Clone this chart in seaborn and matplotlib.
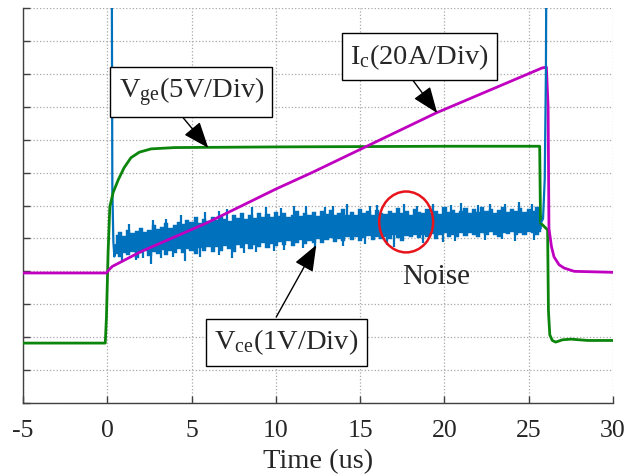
import numpy as np
import pandas as pd
import matplotlib
matplotlib.use("Agg")
import matplotlib.pyplot as plt
import seaborn as sns
from matplotlib.patches import Ellipse

# ---------------- data (y in divisions) ----------------
x_ticks = [-5, 0, 5, 10, 15, 20, 25, 30]
x_tick_labels = ["-5", "0", "5", "10", "15", "20", "25", "30"]

# Vge (green)
vge_t = [-5, -0.12, -0.05, 0.05, 0.15, 0.35, 0.65, 1.0, 1.4, 1.9, 2.6, 4.0, 10, 20,
         25.65, 25.7, 26.12, 26.17, 26.25, 26.4, 26.6, 27.0, 27.5, 28.5, 30]
vge_v = [1.82, 1.82, 2.6, 4.6, 5.96, 6.4, 6.78, 7.15, 7.45, 7.62, 7.72, 7.76, 7.78, 7.8,
         7.8, 5.47, 5.26, 2.8, 2.07, 1.9, 1.85, 1.92, 1.94, 1.9, 1.9]

# Ic (magenta)
ic_t = [-5, -0.05, 0.1, 0.3, 2.0, 5.9, 10, 12.1, 19.5, 25.8, 26.05, 26.15, 26.2,
        26.35, 26.5, 26.8, 27.1, 27.7, 30]
ic_v = [3.95, 3.95, 4.05, 4.15, 4.6, 5.47, 6.5, 6.99, 8.81, 10.18, 10.2, 9.0, 5.3,
        4.75, 4.44, 4.2, 4.1, 4.0, 3.97]

# Vce (blue): switching edges
vce_on_t = [0.27, 0.30, 0.36, 0.42, 0.5]
vce_on_v = [12.5, 6.5, 4.9, 4.45, 4.8]
vce_off_t = [25.75, 25.85, 25.95, 26.02, 26.04]
vce_off_v = [5.5, 5.6, 6.8, 10.0, 12.5]

# Vce noise band: upper / lower edges every 0.25 us from 0.5 to 25.75
band_t = [0.5 + 0.25 * i for i in range(102)]
band_hi = [5.10, 5.18, 5.08, 5.26, 5.15, 5.22, 5.32, 5.18,
           5.26, 5.40, 5.30, 5.35, 5.48, 5.33, 5.42, 5.50,
           5.44, 5.56, 5.50, 5.64, 5.46, 5.58, 5.53, 5.66,
           5.56, 5.68, 5.60, 5.54, 5.72, 5.63, 5.76, 5.58,
           5.70, 5.61, 5.78, 5.66, 5.74, 5.64, 5.81, 5.68,
           5.76, 5.66, 5.72, 5.84, 5.68, 5.78, 5.70, 5.80,
           5.68, 5.82, 5.74, 5.86, 5.71, 5.78, 5.90, 5.72,
           5.80, 5.72, 5.88, 5.76, 5.82, 5.70, 5.86, 5.78,
           5.74, 5.84, 5.78, 5.92, 5.76, 5.82, 5.72, 5.88,
           5.80, 5.76, 5.90, 5.78, 5.84, 5.74, 5.94, 5.80,
           5.86, 5.76, 5.82, 5.92, 5.78, 5.88, 5.80, 5.96,
           5.82, 5.90, 5.78, 5.86, 5.94, 5.80, 5.88, 5.84,
           5.92, 5.80, 5.90, 5.84, 5.96, 5.82]
band_lo = [4.52, 4.45, 4.57, 4.49, 4.59, 4.42, 4.55, 4.61,
           4.47, 4.59, 4.53, 4.65, 4.51, 4.63, 4.57, 4.67,
           4.55, 4.69, 4.61, 4.53, 4.71, 4.63, 4.75, 4.59,
           4.73, 4.63, 4.77, 4.67, 4.59, 4.79, 4.71, 4.83,
           4.69, 4.81, 4.75, 4.87, 4.71, 4.83, 4.77, 4.89,
           4.81, 4.91, 4.77, 4.87, 4.95, 4.83, 4.93, 4.85,
           4.97, 4.87, 4.95, 5.01, 4.89, 4.99, 4.93, 5.03,
           4.95, 5.03, 4.91, 5.01, 5.07, 4.95, 5.03, 4.97,
           5.05, 4.97, 5.09, 5.01, 4.93, 5.07, 5.03, 5.11,
           5.01, 5.09, 5.05, 5.13, 4.99, 5.09, 5.15, 5.05,
           5.11, 5.03, 5.15, 5.07, 5.17, 5.09, 5.03, 5.15,
           5.09, 5.19, 5.11, 5.05, 5.17, 5.13, 5.21, 5.09,
           5.17, 5.11, 5.21, 5.15, 5.09, 5.19]

# taller noise spikes above / below the band
spk_up_t = [1.3, 2.7, 3.5, 4.4, 5.8, 6.6, 7.1, 8.6, 9.4, 10.3, 11.1, 11.8, 12.9, 13.4,
            14.2, 15.6, 16.0, 17.6, 18.4, 19.3, 20.4, 21.0, 22.0, 22.7, 23.6, 24.4, 25.2]
spk_up_v = [5.45, 5.55, 5.6, 5.7, 5.8, 5.84, 5.88, 5.94, 5.96, 5.92, 5.98, 6.0, 5.96,
            6.0, 6.06, 5.98, 6.02, 6.06, 6.0, 6.04, 6.02, 6.08, 6.02, 6.06, 6.04, 6.1, 6.04]
spk_dn_t = [0.9, 1.7, 2.1, 2.6, 3.2, 3.9, 4.6, 5.5, 6.6, 7.4, 8.1, 8.8, 9.9, 10.5,
            11.6, 12.3, 14.0, 15.3, 16.6, 17.0, 18.7, 19.9, 20.6, 22.4, 23.4, 24.2, 25.3]
spk_dn_v = [4.3, 4.35, 4.4, 4.22, 4.4, 4.45, 4.32, 4.45, 4.5, 4.42, 4.55, 4.58, 4.62,
            4.66, 4.7, 4.72, 4.78, 4.82, 4.8, 4.75, 4.86, 4.9, 4.92, 4.94, 4.98, 4.92, 4.96]

# ---------------- style ----------------
sns.set_style("white")
plt.rcParams["font.family"] = ["Liberation Serif", "DejaVu Serif"]
plt.rcParams["mathtext.fontset"] = "custom"
plt.rcParams["mathtext.rm"] = "Liberation Serif"
plt.rcParams["mathtext.it"] = "Liberation Serif:italic"
plt.rcParams["axes.unicode_minus"] = False

BLUE = "#0072bd"
GREEN = "#0b850b"
MAGENTA = "#c000c0"

fig = plt.figure(figsize=(6.27, 4.75), dpi=100)
ax = fig.add_axes([23 / 627, 1 - 403 / 475, 590 / 627, 395 / 475])

# blue noise band
core_lo = np.array(band_lo) + 0.12
core_hi = np.array(band_hi) - 0.12
ax.fill_between(band_t, core_lo, core_hi, fc=BLUE, lw=0, zorder=2)
ax.fill_between(band_t, band_lo, band_hi, step="mid", fc=BLUE, ec=BLUE, lw=0.3, zorder=2)
up_base = np.interp(spk_up_t, band_t, band_hi) - 0.15
dn_base = np.interp(spk_dn_t, band_t, band_lo) + 0.15
ax.vlines(spk_up_t, up_base, spk_up_v, color=BLUE, lw=1.6, zorder=2)
ax.vlines(spk_dn_t, spk_dn_v, dn_base, color=BLUE, lw=1.6, zorder=2)
sns.lineplot(x=vce_on_t, y=vce_on_v, sort=False, estimator=None, color=BLUE, lw=1.6, ax=ax, zorder=2)
sns.lineplot(x=vce_off_t, y=vce_off_v, sort=False, estimator=None, color=BLUE, lw=1.6, ax=ax, zorder=4)

sns.lineplot(x=vge_t, y=vge_v, sort=False, estimator=None, color=GREEN, lw=2.0, ax=ax, zorder=3)
sns.lineplot(x=ic_t, y=ic_v, sort=False, estimator=None, color=MAGENTA, lw=2.0, ax=ax, zorder=3)

# axes
ax.set_xlim(-5, 30)
ax.set_ylim(0, 12)
ax.set_xticks(x_ticks)
ax.set_xticklabels(x_tick_labels)
ax.set_yticks(range(0, 13))
ax.tick_params(axis="both", direction="in", length=5, width=1, color="#404040",
               left=True, bottom=True, labelleft=False, labelsize=18.5, pad=12)
ax.grid(True, ls=":", color="#a8a8a8", lw=0.9)
for s in ["top", "right"]:
    ax.spines[s].set_visible(False)
for s in ["left", "bottom"]:
    ax.spines[s].set_color("#404040")
    ax.spines[s].set_linewidth(1.0)
ax.set_xlabel("Time (us)", fontsize=20.5, labelpad=5)
ax.set_ylabel("")

box = dict(boxstyle="square,pad=0.3", fc="white", ec="black", lw=1)
arrow = dict(arrowstyle="-|>,head_length=0.9,head_width=0.35", color="black", lw=1,
             mutation_scale=18, shrinkA=0, shrinkB=0)
ax.text(4.98, 9.45, r"$\mathrm{V_{ge}(5V/Div)}$", fontsize=20.5, ha="center", va="center",
        bbox=box, zorder=6)
ax.annotate("", xy=(5.99, 7.75), xytext=(4.51, 8.66), arrowprops=arrow, zorder=6)
ax.text(18.53, 10.52, r"$\mathrm{I_{c}(20A/Div)}$", fontsize=20.5, ha="center", va="center",
        bbox=box, zorder=6)
ax.annotate("", xy=(19.57, 8.81), xytext=(18.15, 9.79), arrowprops=arrow, zorder=6)
ax.text(10.62, 1.84, r"$\mathrm{V_{ce}(1V/Div)}$", fontsize=20.5, ha="center", va="center",
        bbox=box, zorder=6)
ax.annotate("", xy=(12.4, 4.8), xytext=(10.02, 2.61), arrowprops=arrow, zorder=6)

ax.add_patch(Ellipse((17.73, 5.5), 3.2, 1.85, fill=False, ec="#e8141b", lw=1.8, zorder=5))
ax.text(19.5, 3.83, "Noise", fontsize=21, ha="center", va="center", zorder=6)

fig.savefig("out.png", dpi=100)
